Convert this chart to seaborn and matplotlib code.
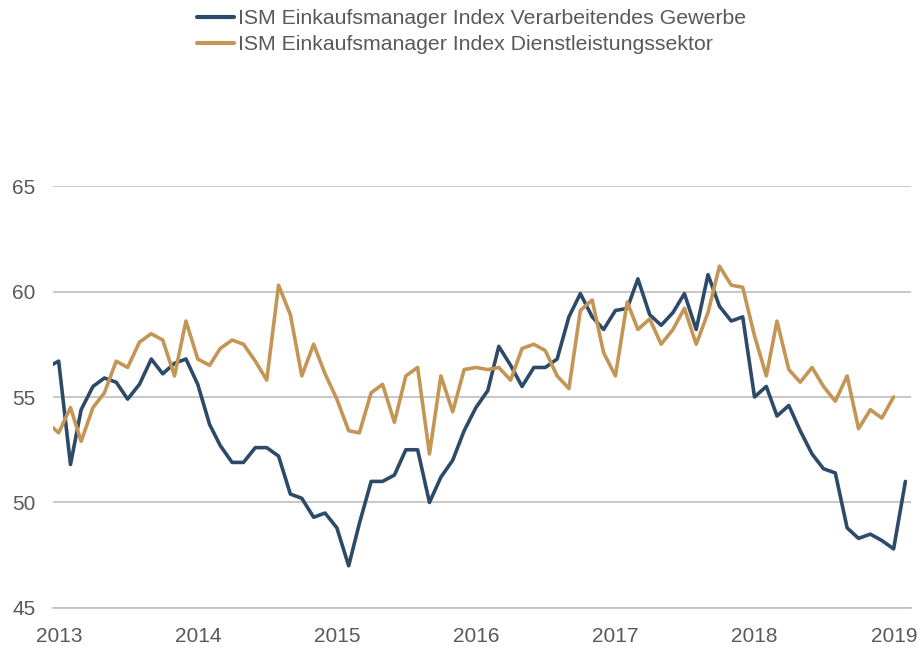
import matplotlib
matplotlib.use("Agg")
import matplotlib.pyplot as plt
import matplotlib.dates as mdates
import matplotlib.transforms as mtransforms
from matplotlib import font_manager
import seaborn as sns
import pandas as pd
import numpy as np

# monthly values, Dec 2012 - Feb 2019 (dated mid-month)
months = pd.date_range("2012-12-01", "2019-02-01", freq="MS") + pd.Timedelta(days=14)

gewerbe = [56.4,
           56.7, 51.8, 54.4, 55.5, 55.9, 55.7, 54.9, 55.6, 56.8, 56.1, 56.6, 56.8,
           55.6, 53.7, 52.7, 51.9, 51.9, 52.6, 52.6, 52.2, 50.4, 50.2, 49.3, 49.5,
           48.8, 47.0, 49.0, 51.0, 51.0, 51.3, 52.5, 52.5, 50.0, 51.2, 52.0, 53.4,
           54.5, 55.3, 57.4, 56.5, 55.5, 56.4, 56.4, 56.8, 58.8, 59.9, 58.8, 58.2,
           59.1, 59.2, 60.6, 58.9, 58.4, 59.0, 59.9, 58.2, 60.8, 59.3, 58.6, 58.8,
           55.0, 55.5, 54.1, 54.6, 53.4, 52.3, 51.6, 51.4, 48.8, 48.3, 48.5, 48.2,
           47.8, 51.0]

dienst = [53.8,
          53.3, 54.5, 52.9, 54.5, 55.2, 56.7, 56.4, 57.6, 58.0, 57.7, 56.0, 58.6,
          56.8, 56.5, 57.3, 57.7, 57.5, 56.7, 55.8, 60.3, 58.9, 56.0, 57.5, 56.1,
          54.9, 53.4, 53.3, 55.2, 55.6, 53.8, 56.0, 56.4, 52.3, 56.0, 54.3, 56.3,
          56.4, 56.3, 56.4, 55.8, 57.3, 57.5, 57.2, 56.0, 55.4, 59.1, 59.6, 57.1,
          56.0, 59.5, 58.2, 58.7, 57.5, 58.2, 59.2, 57.5, 59.0, 61.2, 60.3, 60.2,
          57.9, 56.0, 58.6, 56.3, 55.7, 56.4, 55.5, 54.8, 56.0, 53.5, 54.4, 54.0,
          55.0, np.nan]

label_g = "ISM Einkaufsmanager Index Verarbeitendes Gewerbe"
label_d = "ISM Einkaufsmanager Index Dienstleistungssektor"
colors = {label_g: "#2E4A69", label_d: "#C49655"}

df = pd.concat([
    pd.DataFrame({"date": months, "value": gewerbe, "series": label_g}),
    pd.DataFrame({"date": months, "value": dienst, "series": label_d}),
]).dropna()

sns.set_style("white")
available = {f.name for f in font_manager.fontManager.ttflist}
narrow = "Liberation Sans Narrow" in available
plt.rcParams["font.family"] = ["Liberation Sans Narrow" if narrow else "Liberation Sans", "DejaVu Sans"]
tick_size = 17.5 if narrow else 15
legend_size = 18.5 if narrow else 15.3

fig = plt.figure(figsize=(9.18, 6.52), dpi=100)
ax = fig.add_axes([0.0581, 0.0675, 0.934, 0.6472])

sns.lineplot(data=df, x="date", y="value", hue="series", palette=colors,
             linewidth=2.6, ax=ax, legend=False)

ax.set_xlim(pd.Timestamp("2013-01-01"), pd.Timestamp("2019-03-01"))
ax.set_ylim(45, 65)
ax.set_yticks([45, 50, 55, 60, 65])
ax.yaxis.grid(True, color="#BFBFBF", linewidth=1.2)
ax.set_axisbelow(True)
ax.set_xlabel("")
ax.set_ylabel("")

for s in ["top", "right", "left"]:
    ax.spines[s].set_visible(False)
ax.spines["bottom"].set_color("#BFBFBF")
ax.spines["bottom"].set_linewidth(1.2)

ax.xaxis.set_major_locator(mdates.YearLocator())
ax.xaxis.set_major_formatter(mdates.DateFormatter("%Y"))
ax.xaxis.set_minor_locator(mdates.MonthLocator())
ax.tick_params(axis="x", which="major", direction="out", length=4.3, width=1.0,
               color="#BFBFBF", labelsize=tick_size, labelcolor="#595959", pad=9.5)
ax.tick_params(axis="x", which="minor", direction="out", length=2.4, width=0.8,
               color="#BFBFBF")
ax.tick_params(axis="y", length=0, labelsize=tick_size, labelcolor="#595959", pad=13)

offset = mtransforms.ScaledTranslation(5.5 / 100, 0, fig.dpi_scale_trans)
for lbl in ax.get_xticklabels():
    lbl.set_transform(lbl.get_transform() + offset)

handles = [plt.Line2D([], [], color=colors[label_g], linewidth=3),
           plt.Line2D([], [], color=colors[label_d], linewidth=3)]
fig.legend(handles, [label_g, label_d], loc="upper left",
           bbox_to_anchor=(196.7 / 918, 1 - 9 / 652), frameon=False,
           fontsize=legend_size, handlelength=1.75, handletextpad=0.2,
           labelspacing=0.33, borderpad=0, borderaxespad=0,
           labelcolor="#595959")

fig.savefig("out.png", dpi=100)
